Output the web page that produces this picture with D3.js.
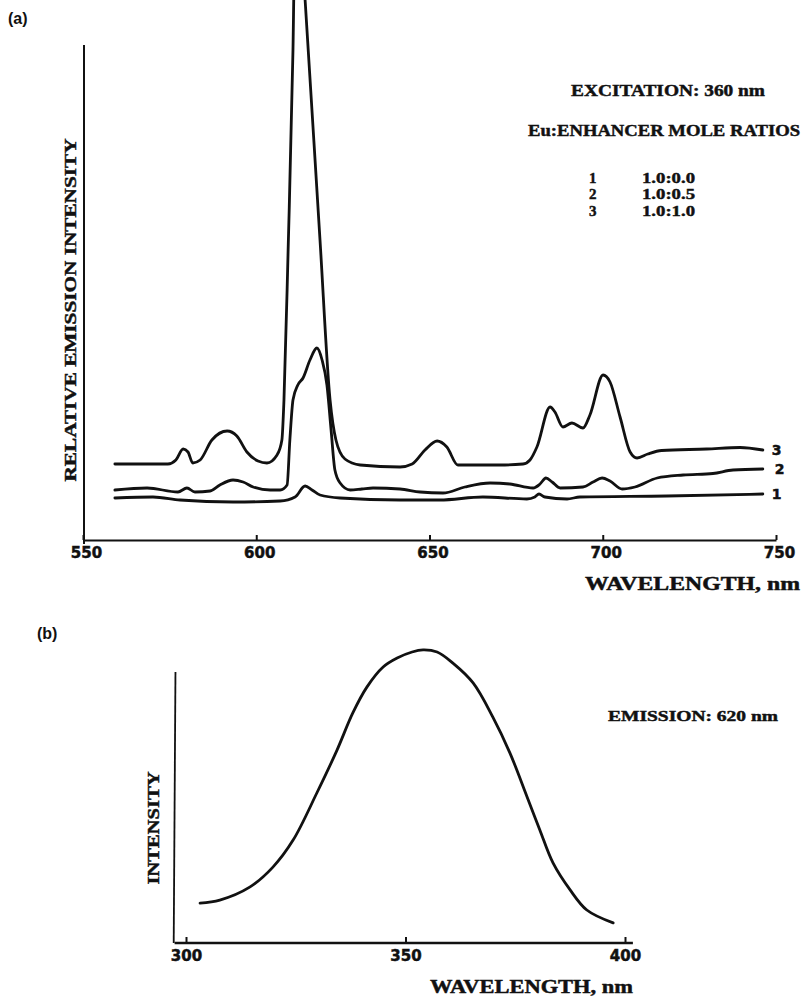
<!DOCTYPE html>
<html>
<head>
<meta charset="utf-8">
<script src="https://cdn.jsdelivr.net/npm/d3@7"></script>
<style>
  html, body { margin: 0; padding: 0; background: #fff; }
  svg { display: block; }
  .serif { font-family: "Liberation Serif", "DejaVu Serif", serif; font-weight: bold; fill: #111; stroke: #111; stroke-width: 0.45px; }
  .sans { font-family: "DejaVu Sans", sans-serif; font-weight: bold; fill: #111; stroke: #111; stroke-width: 0.5px; }
</style>
</head>
<body>
<svg id="chart" width="804" height="999"></svg>
<script>
// ---------- Panel (a): emission spectra ----------
const wavelengthTicksA = [550, 600, 650, 700, 750];
// series: [wavelength nm, relative intensity]
const series1 = [
  [559.2, 8.4], [570.2, 8.6], [578, 8], [593.3, 7.6], [606.9, 7.8], [611.2, 8.6],
  [614.1, 10.8], [616.1, 10], [618.4, 9], [624.2, 8.4], [641.5, 8], [653, 8],
  [665.4, 8.6], [678.1, 8.2], [680.4, 8.6], [681.6, 9.2], [683.3, 8.6], [689.7, 8.2],
  [693.4, 8.6], [718.5, 8.8], [746.2, 9.2]
];
const series2 = [
  [559.2, 10], [568.5, 10.4], [577.4, 9.6], [580, 10.4], [582.3, 9.6], [586.7, 9.8],
  [589.5, 11], [593.3, 12], [596.2, 11.6], [599.1, 10.6], [604, 10], [606.9, 10],
  [608.9, 11], [609.7, 20], [610.6, 28], [612, 31], [613.5, 32.4], [615.5, 36],
  [617.5, 38.4], [619, 36], [620.4, 31], [621.6, 22], [622.7, 14], [624.2, 11.4],
  [627.1, 10], [630.5, 10.2], [633.7, 10.4], [641.5, 10.2], [647.3, 9.6], [653.9, 9.4],
  [660.2, 10.6], [667.5, 11.4], [673.2, 11.2], [679.9, 10.4], [681.9, 11.2], [683.6, 12.4],
  [685.4, 11.6], [687.7, 10.4], [694.3, 10.6], [697.2, 11.6], [699.8, 12.4], [702.1, 11.8],
  [705.6, 10.2], [709.3, 10.6], [715.7, 12.4], [723.2, 13], [731.8, 13.3], [737.6, 14],
  [746.2, 14.2]
];
const series3 = [
  [559.2, 15.2], [574.5, 15.2], [576.8, 16], [578.9, 18.2], [580.3, 17.6], [581.7, 15.4],
  [583.8, 16], [587.2, 20], [591.6, 21.8], [594.4, 20.8], [597.3, 17.6], [600.5, 15.8],
  [603.1, 15.4], [606, 17], [607.4, 20], [608, 28], [609.2, 58], [610.6, 98],
  [611.5, 136], [614.1, 108], [618.4, 60], [621.3, 28], [623, 20], [625.6, 16.2],
  [630, 15], [641.5, 14.6], [645, 15.2], [648.7, 18], [652.2, 19.8], [655, 18.6],
  [658.2, 15], [670.3, 15], [677, 15.2], [679, 16], [681, 18.6], [684.8, 26.6],
  [686.2, 25.6], [688.5, 22.6], [691.1, 23.4], [694.3, 22.4], [696.3, 25], [700.1, 33],
  [702.1, 31.6], [705, 24.6], [707.9, 17.6], [709.9, 16.4], [713, 17.2], [717, 17.9],
  [730, 18.2], [739.6, 18.5], [746.2, 18]
];
const seriesLabels = ["1", "2", "3"];
const ratioLabels = ["1.0:0.0", "1.0:0.5", "1.0:1.0"];

// ---------- Panel (b): excitation spectrum ----------
const wavelengthTicksB = [300, 350, 400];
const excitation = [
  [303.2, 13.3], [307.7, 14.3], [314.6, 18.7], [319.8, 25.3], [324.4, 34.3], [329.8, 50],
  [334.4, 64.3], [338, 76.7], [341.2, 85.3], [344.9, 92], [348.1, 95], [351.5, 97],
  [354, 97.7], [357.2, 97], [360.8, 93.3], [365.4, 86.7], [369.9, 75.3], [373.8, 63.3],
  [377.7, 48.7], [380.6, 37.7], [383.6, 26.7], [387.5, 17.7], [391.3, 11], [397.3, 6.7]
];

const svg = d3.select("#chart");

// ===== Panel (a) =====
const xA = d3.scaleLinear().domain([550, 750]).range([83, 776]);
const yA = d3.scaleLinear().domain([0, 100]).range([540, 40]);

const lineA = d3.line().x(d => xA(d[0])).y(d => yA(d[1])).curve(d3.curveMonotoneX);

const gA = svg.append("g");

// y axis line
gA.append("line")
  .attr("x1", xA(550) + 1).attr("x2", xA(550) + 1)
  .attr("y1", yA(-0.8)).attr("y2", yA(99))
  .attr("stroke", "#111").attr("stroke-width", 2);

// x axis
const axA = gA.append("g")
  .attr("transform", `translate(0,${yA(0)})`)
  .call(d3.axisBottom(xA).tickValues(wavelengthTicksA).tickSizeInner(-5).tickSizeOuter(0).tickPadding(7));
axA.select(".domain").attr("stroke", "#111").attr("stroke-width", 2.2);
axA.selectAll(".tick line").attr("stroke", "#111").attr("stroke-width", 2);
axA.selectAll(".tick text")
  .attr("class", "sans").attr("font-size", 15).attr("dx", 3);

// curves
[series1, series2, series3].forEach(s => {
  gA.append("path").datum(s)
    .attr("d", lineA)
    .attr("fill", "none").attr("stroke", "#111")
    .attr("stroke-width", 2.8).attr("stroke-linejoin", "round").attr("stroke-linecap", "round");
});

// curve labels
[series1, series2, series3].forEach((s, i) => {
  const last = s[s.length - 1];
  gA.append("text").attr("class", "sans")
    .attr("x", xA(last[0]) + 9 + (i === 1 ? 3 : 0))
    .attr("y", yA(last[1]))
    .attr("dy", "0.36em")
    .attr("font-size", 14)
    .text(seriesLabels[i]);
});

// axis titles
gA.append("text").attr("class", "serif")
  .attr("transform", `translate(76,${(yA(0) + yA(100)) / 2 + 20}) rotate(-90)`)
  .attr("text-anchor", "middle").attr("font-size", 17)
  .attr("textLength", 343).attr("lengthAdjust", "spacingAndGlyphs")
  .text("RELATIVE EMISSION INTENSITY");

gA.append("text").attr("class", "serif")
  .attr("x", 585).attr("y", 590).attr("font-size", 18)
  .attr("textLength", 215).attr("lengthAdjust", "spacingAndGlyphs")
  .text("WAVELENGTH, nm");

// legend
gA.append("text").attr("class", "serif")
  .attr("x", 571).attr("y", 96).attr("font-size", 16)
  .attr("textLength", 194).attr("lengthAdjust", "spacingAndGlyphs")
  .text("EXCITATION:  360 nm");
gA.append("text").attr("class", "serif")
  .attr("x", 528).attr("y", 136).attr("font-size", 16)
  .attr("textLength", 272).attr("lengthAdjust", "spacingAndGlyphs")
  .text("Eu:ENHANCER MOLE RATIOS");
seriesLabels.forEach((lab, i) => {
  const yy = 182.5 + i * 16.5;
  gA.append("text").attr("class", "serif").attr("x", 589).attr("y", yy).attr("font-size", 15).text(lab);
  gA.append("text").attr("class", "serif").attr("x", 642).attr("y", yy).attr("font-size", 15)
    .attr("textLength", 53).attr("lengthAdjust", "spacingAndGlyphs").text(ratioLabels[i]);
});

// panel tag
svg.append("text").attr("x", 8).attr("y", 24)
  .style("font-family", '"Liberation Sans", Arial, sans-serif').style("font-weight", "bold")
  .attr("font-size", 16).attr("fill", "#111").text("(a)");

// ===== Panel (b) =====
const xB = d3.scaleLinear().domain([300, 400]).range([186, 625]);
const yB = d3.scaleLinear().domain([0, 100]).range([943, 643]);
const lineB = d3.line().x(d => xB(d[0])).y(d => yB(d[1])).curve(d3.curveCatmullRom.alpha(0.5));

const gB = svg.append("g");

// x axis line across
gB.append("line")
  .attr("x1", xB(297.4)).attr("x2", xB(401.8))
  .attr("y1", yB(0)).attr("y2", yB(0))
  .attr("stroke", "#111").attr("stroke-width", 2.4);
// y axis line
gB.append("line")
  .attr("x1", xB(297.2)).attr("x2", xB(297.6))
  .attr("y1", yB(0)).attr("y2", yB(90.3))
  .attr("stroke", "#111").attr("stroke-width", 1.8);

const axB = gB.append("g")
  .attr("transform", `translate(0,${yB(0)})`)
  .call(d3.axisBottom(xB).tickValues(wavelengthTicksB).tickSizeInner(-6).tickSizeOuter(0).tickPadding(7));
axB.select(".domain").remove();
axB.selectAll(".tick line").attr("stroke", "#111").attr("stroke-width", 2);
axB.selectAll(".tick text")
  .attr("class", "sans").attr("font-size", 15);

gB.append("path").datum(excitation)
  .attr("d", lineB)
  .attr("fill", "none").attr("stroke", "#111")
  .attr("stroke-width", 2.8).attr("stroke-linecap", "round");

gB.append("text").attr("class", "serif")
  .attr("transform", `translate(159,828) rotate(-90)`)
  .attr("text-anchor", "middle").attr("font-size", 17)
  .attr("textLength", 113).attr("lengthAdjust", "spacingAndGlyphs")
  .text("INTENSITY");

gB.append("text").attr("class", "serif")
  .attr("x", 430).attr("y", 993).attr("font-size", 18)
  .attr("textLength", 203).attr("lengthAdjust", "spacingAndGlyphs")
  .text("WAVELENGTH, nm");

gB.append("text").attr("class", "serif")
  .attr("x", 608).attr("y", 721).attr("font-size", 15)
  .attr("textLength", 170).attr("lengthAdjust", "spacingAndGlyphs")
  .text("EMISSION:  620 nm");

svg.append("text").attr("x", 37).attr("y", 639)
  .style("font-family", '"Liberation Sans", Arial, sans-serif').style("font-weight", "bold")
  .attr("font-size", 16).attr("fill", "#111").text("(b)");
</script>
</body>
</html>
